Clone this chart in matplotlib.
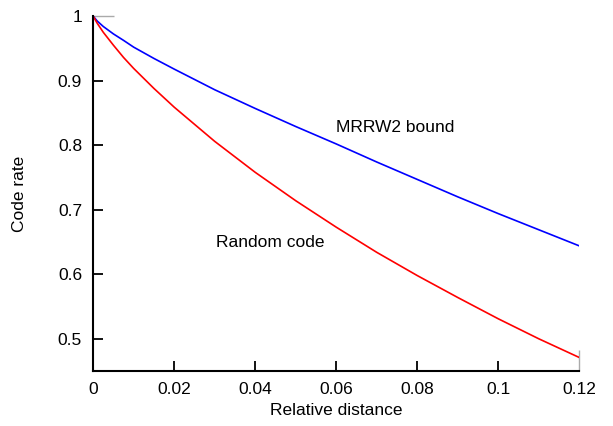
import matplotlib.pyplot as plt
import numpy as np

plt.rcParams['font.family'] = ['Liberation Sans', 'DejaVu Sans']

# relative distance vs code rate
dist_random = [0, 0.001, 0.0025, 0.005, 0.0075, 0.01, 0.015, 0.02, 0.03, 0.04, 0.05,
               0.06, 0.07, 0.08, 0.09, 0.10, 0.11, 0.12]
rate_random = [1.0, 0.989, 0.975, 0.955, 0.936, 0.919, 0.888, 0.859, 0.806, 0.758, 0.714,
               0.673, 0.634, 0.598, 0.564, 0.531, 0.500, 0.471]

dist_mrrw = [0, 0.001, 0.0025, 0.005, 0.0075, 0.01, 0.015, 0.02, 0.03, 0.04, 0.05,
             0.06, 0.07, 0.08, 0.09, 0.10, 0.11, 0.12]
rate_mrrw = [1.0, 0.9925, 0.984, 0.9725, 0.9625, 0.952, 0.9345, 0.918, 0.886, 0.857, 0.829,
             0.802, 0.774, 0.747, 0.720, 0.694, 0.669, 0.644]

xticks = [0, 0.02, 0.04, 0.06, 0.08, 0.1, 0.12]
xtick_labels = ['0', '0.02', '0.04', '0.06', '0.08', '0.1', '0.12']
yticks = [0.5, 0.6, 0.7, 0.8, 0.9, 1.0]
ytick_labels = ['0.5', '0.6', '0.7', '0.8', '0.9', '1']

fs = 12.5

fig = plt.figure(figsize=(6.13, 4.26), dpi=100)
ax = fig.add_axes([0.152, 0.129, 0.793, 0.833])

ax.plot(dist_mrrw, rate_mrrw, color='#0000ff', lw=1.2)
ax.plot(dist_random, rate_random, color='#ff0000', lw=1.2)

ax.text(0.0746, 0.828, 'MRRW2 bound', fontsize=fs, ha='center', va='center')
ax.text(0.0437, 0.650, 'Random code', fontsize=fs, ha='center', va='center')

ax.set_xlim(0, 0.12)
ax.set_ylim(0.45, 1.0)
ax.set_xticks(xticks)
ax.set_xticklabels(xtick_labels)
ax.set_yticks(yticks)
ax.set_yticklabels(ytick_labels)
ax.tick_params(direction='in', length=7, width=1.3, labelsize=fs, pad=8)

for s in ['top', 'right']:
    ax.spines[s].set_visible(False)
for s in ['left', 'bottom']:
    ax.spines[s].set_linewidth(1.5)

# grey end marks at the axis limits
for t in [ax.yaxis.get_major_ticks()[-1], ax.xaxis.get_major_ticks()[-1]]:
    t.tick1line.set_markeredgecolor('#aaaaaa')
    t.tick1line.set_markersize(15)
    t.tick1line.set_markeredgewidth(1)

ax.set_xlabel('Relative distance', fontsize=fs, labelpad=4)
ax.set_ylabel('Code rate', fontsize=fs, labelpad=22)

fig.savefig('out.png', dpi=100)
